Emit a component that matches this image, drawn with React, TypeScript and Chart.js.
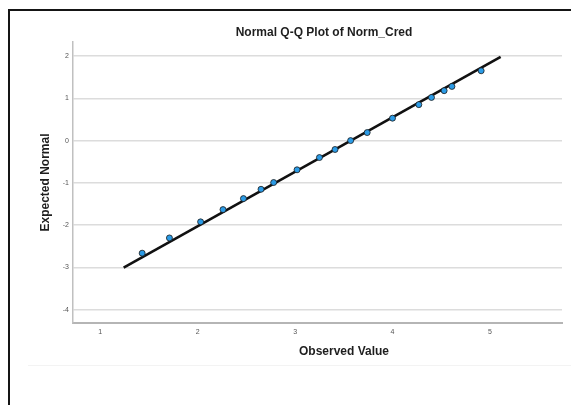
import React, { useEffect, useRef } from "react";
import { Chart, registerables } from "chart.js";

Chart.register(...registerables);

const chartTitle = "Normal Q-Q Plot of Norm_Cred";
const xTitle = "Observed Value";
const yTitle = "Expected Normal";

const observed = [1.43, 1.71, 2.03, 2.26, 2.47, 2.65, 2.78, 3.02, 3.25, 3.41, 3.57, 3.74, 4.0, 4.27, 4.4, 4.53, 4.61, 4.91];
const expected = [-2.66, -2.3, -1.92, -1.63, -1.37, -1.15, -0.99, -0.69, -0.4, -0.21, 0.0, 0.19, 0.53, 0.85, 1.02, 1.18, 1.28, 1.65];

const refLineX = [1.24, 5.11];
const refLineY = [-3.0, 1.98];

const xTicks = [1, 2, 3, 4, 5];
const yTicks = [-4, -3, -2, -1, 0, 1, 2];
const xRange = [0.72, 5.74];
const yRange = [-4.31, 2.33];

const FONT = "'Liberation Sans', Arial, sans-serif";

const decorPlugin = {
  id: "decor",
  beforeDraw(chart: any) {
    const ctx = chart.ctx;
    ctx.save();
    ctx.fillStyle = "#ffffff";
    ctx.fillRect(0, 0, chart.width, chart.height);
    // frame
    ctx.fillStyle = "#151515";
    ctx.fillRect(8, 9, chart.width - 8, 2);
    ctx.fillRect(8, 9, 2, chart.height - 9);
    // faint separator
    ctx.fillStyle = "#f3f3f3";
    ctx.fillRect(28, 365, chart.width - 28, 1);
    ctx.restore();
  },
  afterDraw(chart: any) {
    const ctx = chart.ctx;
    const area = chart.chartArea;
    ctx.save();
    ctx.fillStyle = "#1e1e1e";
    ctx.textAlign = "center";
    ctx.textBaseline = "middle";
    ctx.font = `bold 12px ${FONT}`;
    ctx.fillText(chartTitle, 324, 33);
    ctx.fillText(xTitle, 344, 352);
    ctx.translate(45.5, (area.top + area.bottom) / 2);
    ctx.rotate(-Math.PI / 2);
    ctx.fillText(yTitle, 0, 0);
    ctx.restore();
  },
};

export default function App() {
  const ref = useRef<HTMLCanvasElement>(null);
  useEffect(() => {
    if (!ref.current) return;
    const chart = new Chart(ref.current, {
      type: "scatter",
      data: {
        datasets: [
          {
            type: "scatter",
            data: observed.map((x, i) => ({ x, y: expected[i] })),
            pointRadius: 3,
            pointHoverRadius: 3,
            backgroundColor: "#2b9be6",
            borderColor: "#1b1b1b",
            borderWidth: 0.8,
          },
          {
            type: "line",
            data: refLineX.map((x, i) => ({ x, y: refLineY[i] })),
            borderColor: "#111111",
            borderWidth: 2.6,
            pointRadius: 0,
            fill: false,
          } as any,
        ],
      },
      options: {
        animation: false,
        responsive: false,
        maintainAspectRatio: false,
        layout: { autoPadding: false, padding: { left: 0, top: 42, right: 9, bottom: 0 } } as any,
        plugins: { legend: { display: false }, tooltip: { enabled: false }, title: { display: false } },
        scales: {
          x: {
            type: "linear",
            min: xRange[0],
            max: xRange[1],
            afterFit: (s: any) => { s.height = 82; },
            afterBuildTicks: (s: any) => { s.ticks = xTicks.map((v) => ({ value: v })); },
            grid: { display: false, drawTicks: false },
            border: { display: true, color: "#b5b5b5", width: 2 },
            ticks: { color: "#555", font: { family: FONT, size: 7 }, padding: 5, maxRotation: 0, autoSkip: false },
          },
          y: {
            type: "linear",
            min: yRange[0],
            max: yRange[1],
            afterFit: (s: any) => { s.width = 73; },
            afterBuildTicks: (s: any) => { s.ticks = yTicks.map((v) => ({ value: v })); },
            grid: { display: true, color: "#dcdcdc", lineWidth: 1.5, drawTicks: false },
            border: { display: true, color: "#c0c0c0", width: 1.5 },
            ticks: { color: "#555", font: { family: FONT, size: 7 }, padding: 4, autoSkip: false },
          },
        },
      },
      plugins: [decorPlugin],
    });
    return () => chart.destroy();
  }, []);
  return (
    <div style={{ position: "fixed", left: 0, top: 0, width: 571, height: 405, overflow: "hidden", background: "#fff" }}>
      <canvas ref={ref} width={571} height={405} style={{ width: 571, height: 405, display: "block" }} />
    </div>
  );
}
